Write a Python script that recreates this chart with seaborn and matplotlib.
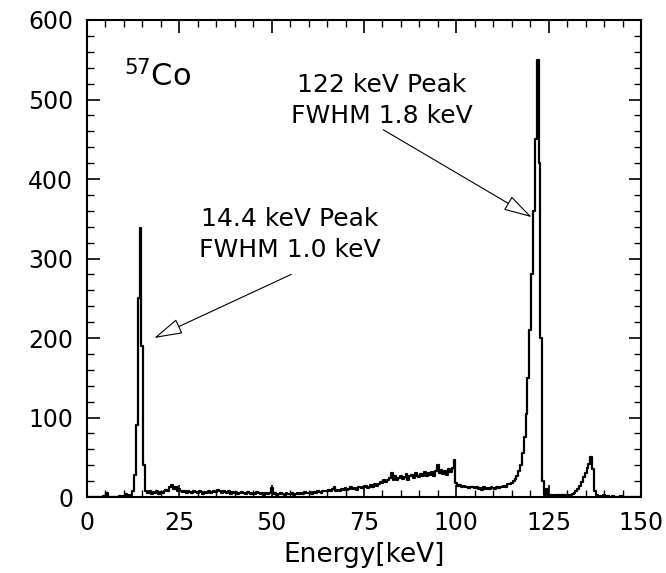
import numpy as np
import pandas as pd
import seaborn as sns
import matplotlib
matplotlib.use("Agg")
import matplotlib.pyplot as plt
from matplotlib.ticker import MultipleLocator

# Energy bins (keV), 0.5 keV spacing
energy = [i * 0.5 for i in range(301)]

# Counts, grouped per 5 keV
counts = [
    0, 0, 0, 0, 0, 0, 0, 0, 0, 1,            # 0.0 - 4.5
    0, 5, 0, 0, 0, 0, 0, 0, 1, 0,            # 5.0 - 9.5
    1, 4, 1, 2, 3, 8, 28, 90, 250, 338,      # 10.0 - 14.5
    190, 40, 8, 5, 7, 4, 6, 5, 8, 4,         # 15.0 - 19.5
    6, 5, 7, 9, 8, 12, 15, 10, 13, 8,        # 20.0 - 24.5
    10, 7, 6, 8, 5, 7, 6, 5, 8, 6,           # 25.0 - 29.5
    5, 7, 6, 4, 6, 5, 7, 5, 6, 8,            # 30.0 - 34.5
    6, 9, 7, 5, 8, 6, 5, 7, 4, 6,            # 35.0 - 39.5
    5, 6, 4, 5, 6, 5, 4, 6, 5, 4,            # 40.0 - 44.5
    5, 4, 6, 5, 4, 5, 3, 5, 4, 5,            # 45.0 - 49.5
    11, 4, 5, 3, 4, 5, 4, 3, 5, 4,           # 50.0 - 54.5
    4, 5, 3, 4, 5, 4, 5, 4, 6, 5,            # 55.0 - 59.5
    5, 6, 4, 6, 5, 7, 6, 5, 7, 8,            # 60.0 - 64.5
    7, 9, 8, 10, 13, 8, 9, 7, 10, 9,         # 65.0 - 69.5
    11, 9, 10, 12, 10, 11, 9, 12, 13, 11,    # 70.0 - 74.5
    12, 14, 11, 13, 15, 12, 16, 14, 17, 19,  # 75.0 - 79.5
    18, 21, 19, 22, 24, 30, 22, 26, 21, 24,  # 80.0 - 84.5
    27, 23, 25, 29, 22, 26, 28, 24, 30, 27,  # 85.0 - 89.5
    25, 29, 27, 32, 26, 30, 28, 31, 27, 33,  # 90.0 - 94.5
    40, 30, 34, 29, 33, 28, 35, 31, 36, 46,  # 95.0 - 99.5
    18, 14, 15, 13, 14, 12, 13, 11, 12, 13,  # 100.0 - 104.5
    11, 12, 10, 11, 9, 12, 10, 11, 10, 12,   # 105.0 - 109.5
    11, 10, 12, 11, 13, 12, 14, 13, 16, 17,  # 110.0 - 114.5
    18, 20, 23, 27, 33, 40, 55, 75, 105, 150,  # 115.0 - 119.5
    210, 280, 360, 450, 550, 420, 200, 20, 3, 10,  # 120.0 - 124.5
    3, 2, 3, 1, 2, 3, 2, 3, 2, 2,            # 125.0 - 129.5
    2, 3, 3, 4, 5, 7, 10, 14, 19, 25,        # 130.0 - 134.5
    30, 36, 42, 50, 35, 8, 2, 1, 1, 0,       # 135.0 - 139.5
    2, 0, 1, 0, 0, 1, 0, 0, 0, 1,            # 140.0 - 144.5
    0, 0, 0, 0, 0, 0, 0, 0, 0, 0,            # 145.0 - 149.5
    0,                                       # 150.0
]

x_ticks = [0, 25, 50, 75, 100, 125, 150]
y_ticks = [0, 100, 200, 300, 400, 500, 600]

df = pd.DataFrame({"Energy": energy, "Counts": counts})

sns.set_theme(style="white")
plt.rcParams['font.family'] = ['DejaVu Sans']

fig = plt.figure(figsize=(6.66, 5.73), dpi=100)
ax = fig.add_axes([0.1306, 0.1326, 0.8319, 0.8325])

sns.lineplot(data=df, x="Energy", y="Counts", ax=ax, color="black",
             linewidth=1.6, drawstyle="steps-mid", estimator=None)

ax.set_xlim(0, 150)
ax.set_ylim(0, 600)
ax.set_xticks(x_ticks)
ax.set_yticks(y_ticks)
ax.xaxis.set_minor_locator(MultipleLocator(5))
ax.yaxis.set_minor_locator(MultipleLocator(20))
ax.tick_params(which="both", direction="in", top=True, right=True,
               bottom=True, left=True, colors="black", labelsize=17)
ax.tick_params(which="major", length=9, width=1.2, pad=10)
ax.tick_params(which="minor", length=5, width=1.0)
for s in ax.spines.values():
    s.set_color("black")
    s.set_linewidth(1.5)

ax.set_xlabel("Energy[keV]", fontsize=19, color="black", labelpad=5)
ax.set_ylabel("")

ax.text(10.0, 516, r"$^{57}$Co", fontsize=22, color="black", ha="left",
        va="baseline")
ax.text(79.8, 499, "122 keV Peak\nFWHM 1.8 keV", fontsize=18, ha="center",
        va="center", linespacing=1.35, color="black")
ax.text(55.0, 330, "14.4 keV Peak\nFWHM 1.0 keV", fontsize=18, ha="center",
        va="center", linespacing=1.35, color="black")

arrow_kw = dict(arrowstyle="-|>,head_length=0.9,head_width=0.25", fc="white",
                ec="black", lw=0.8, shrinkA=0, shrinkB=0, mutation_scale=20)
ax.annotate("", xy=(120.4, 352), xytext=(80.2, 462), arrowprops=arrow_kw)
ax.annotate("", xy=(18.2, 200), xytext=(55.3, 280), arrowprops=arrow_kw)

fig.savefig("out.png", dpi=100)
